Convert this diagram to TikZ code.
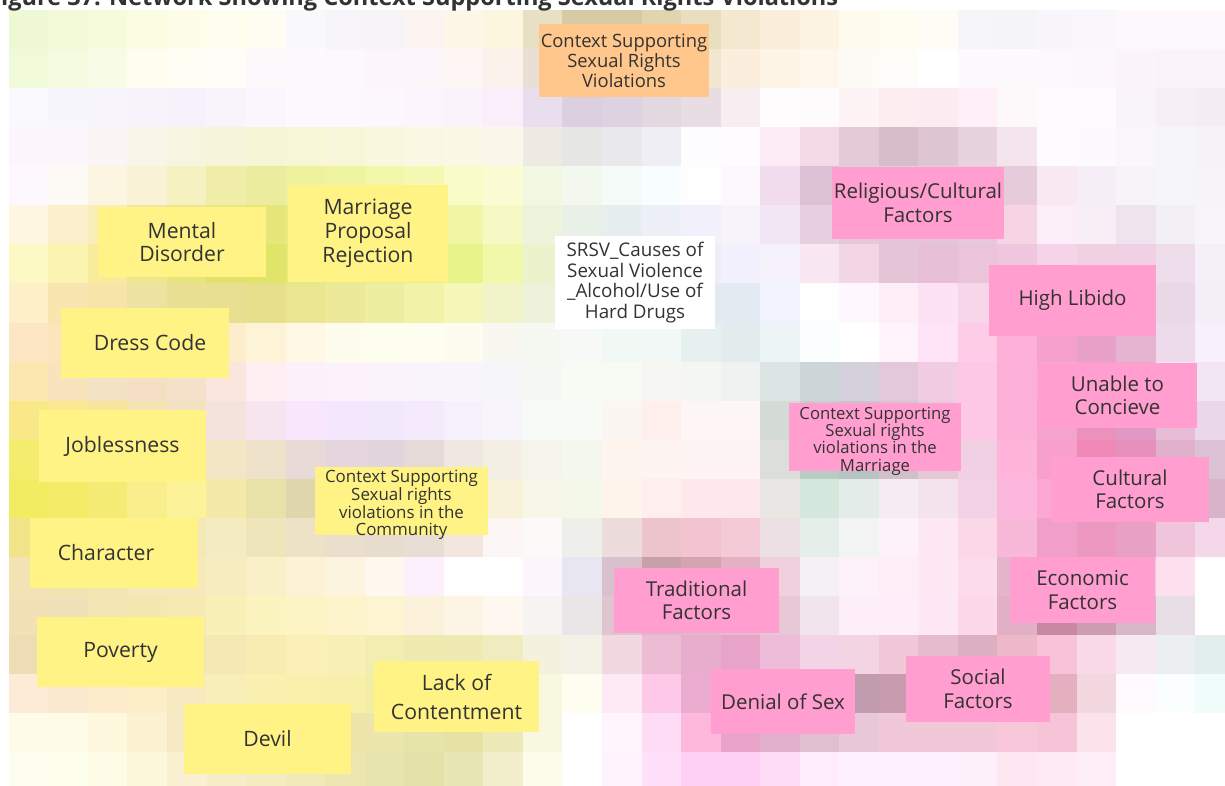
\documentclass[tikz,border=0pt]{standalone}
\usepackage{graphicx}
\usepackage{fontspec}
\setmainfont{Open Sans}

\definecolor{ink}{HTML}{333333}
\definecolor{stickyY}{HTML}{FFF385}
\definecolor{stickyP}{HTML}{FF9ECF}
\definecolor{stickyO}{HTML}{FFC78C}

% one row of the background mosaic: #1 = row index, #2 = list of HTML colours
\newcommand\tilerow[2]{%
  \foreach \c [count=\i from 0] in {#2} {%
    \edef\settile{\noexpand\definecolor{tile}{HTML}{\c}}\settile
    \fill[tile] ({8.7+39.55*\i},{10+39.07*#1}) rectangle ++(39.65,39.17);
  }}

\tikzset{
  card/.style={rectangle, inner sep=2pt, align=center, text=ink},
  ycard/.style={card, fill=stickyY, font=\fontsize{21.2}{23.8}\selectfont},
  pcard/.style={card, fill=stickyP, font=\fontsize{20.5}{23.5}\selectfont},
  ocard/.style={card, fill=stickyO},
  wcard/.style={card, fill=white},
  plain/.style={inner sep=0pt, align=center, text=ink},
  box/.style n args={2}{minimum width=#1pt, minimum height=#2pt},
}

\begin{document}
\begin{tikzpicture}[x=1pt, y=-1pt]
\useasboundingbox (0,0) rectangle (1225,785);
\clip (0,0) rectangle (1225,785);
\fill[white] (0,0) rectangle (1225,785);

% background mosaic
\tilerow{0}{EFF8D4,F1F9D6,F6FBDC,FBFDE2,FEFEE8,FEFEEE,FDFDF2,F9F8FA,F7F5FA,F7F4F7,FBF4F0,FDF7E8,FDF6DE,E8E0C4,D6CBA4,D6CBA4,E0D5AE,E9DFC0,F3E9D0,FBEFDB,FDF3E2,FEFAEC,FEFDF2,FDFDF6,F6F6F8,F5F5F8,F8F6FA,F9F7FB,FDF8FC,FDF8FC,FDF8FC}
\tilerow{1}{F0FAD8,F4FBE0,F8FCE6,FDFEF0,FEFEF4,FEFDF8,FDFAFD,FDF9FD,FDF8FD,FCF6FC,FCF6FA,FDF6F4,FBF2EC,EADFD5,E8DCC8,E8DCC8,ECE0CC,F2E6D0,FBEEDC,FDF4E6,FEF7EC,FEFBF6,FEFDFA,FFFFFF,FDFAFD,FDFAFD,FCF8FC,FCF7FB,FBF5FA,FAF3F8,FAF3F8}
\tilerow{2}{F9F9FE,F8F6FD,F8F5FD,F6F3FB,F6F2FB,F8F4FC,FAF6FD,FDF8FD,FDF8FD,FCF7FD,FCF5FD,FBF3FC,F9EFFB,E8DEEE,DCD0E0,DDD3E0,E2D8E0,E8DDE3,F8EDF0,FEFCFC,FDFBFC,FEF4F6,FCEDF1,FCEBF0,FEF0F6,FDF9FB,FDFBFD,FDFBFD,F8F4F8,F6F0F5,F4EEF4}
\tilerow{3}{FCF6FC,FCF6FC,FBF5F6,F9F6E8,F7F4E0,F6F5DC,F6F5D6,F7F7D6,F7F6D8,F9F7DE,FAF8E2,FBF8E6,FBF7EA,EEEAE2,E6E6E4,E9E9EC,EFEEF4,FDFCFE,FEFCFE,FDEBF6,F4D9E6,E4C9D6,D7BCCA,DEC5D2,E6D3DE,F4E4EC,FDFBFD,FCFAFD,F9F7FB,F6F5F9,F5F3F8}
\tilerow{4}{FDF8FD,FDFAF6,FCF5E2,FAF2D6,F5F1C0,F0EDA8,ECEC9E,EEF29C,EEF4A0,F2F7AA,F5F9B4,FAFCC8,FBFCD4,F2F7E2,F2F8EE,F4FBF8,F8FDFF,FEFEFE,FCF8FC,F2DDEE,DCC0D4,E8C8DA,E8C8DA,E8C8DA,E8C8DA,E6CCDA,F8E8F2,F6EEF6,F6F4F8,F6F6FA,F6F4F8}
\tilerow{5}{FEF6E0,FCF0CC,F8EEB8,F0E8A0,EDE890,E8E880,E6E67A,E8EC86,EAEE8E,ECF090,EEF294,F0F6A4,F6F9C4,EEF3DC,E8F0E8,E6EEF0,EEF0F8,F2F0FA,F8F2FA,F2E6F4,E6D0E0,E6C8DA,E4C4D6,E4C4D6,E8C8DA,F6D4E4,FCEEF8,F8EEF6,EEE4EE,F2F0F4,F7F5FA}
\tilerow{6}{FCF8C4,FAF4B0,F6EC9C,EEE690,E8E47C,E4E070,E0E468,E6E878,E8EC80,EAF084,ECF288,E8F48A,F2F8AA,ECF2CC,E6EEE0,E8EEF0,ECEEF8,EEEEF8,F2F0FC,F6F2FC,F8E6F2,F2D6E6,E6C4D8,E8C0D6,ECC4DA,F0C6DE,F4D4E6,F0D0E2,F0D0E2,EEDDEA,F5F0F7}
\tilerow{7}{FDF0C8,F8E6B0,F6E4A8,EEE2A0,E9E094,E8E090,E6E08C,E9E590,ECEA98,EEEEA0,F2F2A8,F4F7B8,F0F4C8,EEF2DA,E8EEEE,E6ECF0,E4EAF2,E4EAF2,E4EAF2,F0F2FE,FEFEFE,FEF8FE,FDEEF8,FCE2F2,F8D6EA,F6CCE2,F6C0DA,F4B8D6,F0B4D2,EAD8E6,F4EEF6}
\tilerow{8}{FDE6C4,FCE4BC,F8E4B4,F6E2B4,F6E2B8,FCEECC,FDF4D8,FEF8E4,FEFCEC,FEFEEE,FEFEF0,FCFCF0,F8F8F0,F6F8F2,F6F9F5,F2F8F4,F2F8F6,E6F0EE,E2ECEC,ECF4F6,FAFEFE,FFFFFF,FFF4FC,FFE4F8,FFCCE8,FFB0D8,F6A0CC,E8A0C8,E4B4D0,EDDAEA,F8F0FC}
\tilerow{9}{FCE7AE,F8E4BC,F4E2C4,F4DEC4,F6E2CA,FAE6DC,FDEFF2,FCF0FA,FCF2FC,FBF4FC,FAF4FC,F8F6FC,F6F6F8,F6F8F4,F8FAF4,F8FAF4,F6F6F2,F4F6F2,EFF2F0,DCE4E4,CCD6D8,D4D0DC,E2C8D8,F2CCE2,FCC8E6,FCB0D8,F8A8D0,F0A4C8,F0A4C8,F2E6F4,F2E6F4}
\tilerow{10}{F8E888,FBE890,F8E49A,F4E4B2,F2E2C2,F4E2DC,F6E4EE,F8E6FC,F4E6FC,F2E8FC,F4EAFC,F6F0FC,F8F4FC,F8FAF8,F8FAF6,FCF6F2,FEEEEC,FEF6F4,FEF6F4,D4DAD6,C8CCCC,C8C4CC,D8C4D0,E8CCDC,FCC8E6,FCB0D8,F4A4CC,EC90BC,E098C4,E8BCD4,EAD8EA}
\tilerow{11}{F4EC6C,F4EA80,F6E890,F4E4A0,F2E4B4,F2E6C4,EEE2CA,E8DAD6,E4D6DC,E2D6DC,E6DAD8,F0E8E0,F4F0E6,F4F4EA,F4F8EC,FEF6EE,FEF4F2,FEF4F4,FEF4F4,DCDEDA,B8CCC4,B8C4C4,D0C0C8,E4C8D4,F2D0E4,FFB4DA,F8A0CC,F088B8,E890BC,E0B0CC,DCC0D4}
\tilerow{12}{F2EC62,F4EC68,F4EC74,F8EE8C,FCF29A,F2EAA6,E8E2A8,E0D6AC,E4DAB4,E6DCB8,E8DEBC,EEE6C8,F8F2D8,F8F6E6,F4F8E8,FEF4EC,FEEEEE,FEE8EC,FEE8EC,EAE6E4,D4E8DE,E4ECEA,F4ECF2,F4E2EC,F2D2E4,FCB8DC,FCA8D2,F0A8D0,EEA8CE,E8B0CC,D8B4C8}
\tilerow{13}{F0E488,F0E490,F2E6A0,F2E8B0,F2E8B8,F4ECC0,EEE6BA,EEE2C6,EADECC,E8DCCE,E8DED4,F2E6DE,FCF6F4,FCFAF8,EEEEEA,ECDCDC,EEC4CC,F2C4D0,F4CAD6,ECE0E4,E6EEEA,F2F4F4,FEF2FA,FEE8F4,FAD8E8,F8B8D8,F0A0C8,EC98C0,E8A0C4,F0C4DA,F4D8EA}
\tilerow{14}{F2E2B4,F2E4B0,F4E6B4,F6E8B8,F6EABC,F6ECC0,FAF0C8,FDF2D4,FDF4E0,FEF8EE,FCF0FC,FEFEFE,FEFEFE,FCF6FC,E8E6F0,D8C0CC,C8A0AC,D4A4B0,E4B0C4,F0D0DC,F4F0F4,FCF2F8,FEECF6,FEE8F4,FCDCEC,E4B4CC,E8C0D0,E4C0D0,E8CCDA,FCE0EE,FFFFFF}
\tilerow{15}{F2E0B6,F0E2B8,F2E6B4,F2E8B0,F4EAB2,F8F0B6,FCF4BE,FDF4C6,FDF4CC,FDF4D2,FCF2DC,FCF4E4,FEF8F0,F6F4F2,EAE6E8,E0C4D0,DCB8C8,E0B8C8,E4BCCC,E8C8D4,F2E4EC,FEEEFA,FEEEFA,FEE8F6,FDD8EA,E2B0C6,C888A2,CC9CB0,D8B8C8,E8DEE6,FFFFFF}
\tilerow{16}{EEDCB4,F0E0B4,F2E2B4,F4E4B8,F4E4B8,F4E8B4,F8ECB2,FAF0B8,F8F0B6,F2EEB0,EEEAB0,EEEAB2,F0ECC0,F4F2DC,F4F2E6,F2D8E0,ECBCD4,E8ACCC,E8A4C8,ECBCD8,F2D4E6,F2D4E2,F0C8D8,E4BCCC,DCB0C0,ECB8CA,F8C2D8,FADAE8,F6EAF0,ECEFF2,E2EEEC}
\tilerow{17}{FDEBD8,FCEAD0,FCECCC,FCEEC6,F8EAC0,F8EEB8,FAF0B0,FAF0AC,F8F0AA,F4EEA4,F0ECA4,EEEAA8,F0EEB8,F8F8E0,FEFEF0,FEEAF4,FEC8E8,ECACD0,E8A4CC,E4A8C8,E0A8C4,C09CAE,C89CAE,D8A8BC,E0B0C0,E4B0C0,E4B0C0,F4D8E0,FEFAFE,FAFEFE,F0FCFA}
\tilerow{18}{FEFCE8,FEFCE6,FDF8DE,FBF2D2,F6E8C2,F2E6B8,F0E6B0,EEE4AC,ECE4A8,ECE6AC,E6E4A8,E6E2A4,EEEAB8,F8F8E0,FFFFFF,FEF6FC,FEDCF6,FEB8DC,E8A4C8,E0B0CC,E0C0D0,E8C8D8,F0C8D8,F2C8D8,F2C8D8,F8C8DA,F6C4D6,FCE2EA,FFFFFF,FFFFFF,FFFFFF}
\tilerow{19}{FEFEEE,FEFEEC,FEFCE6,FCF6DA,FAF0D2,F6EEC8,F4ECC0,F0EAB8,ECE6B0,E8E4B0,E4E2A8,E8E6B4,F2EECC,FCFCEA,FFFFFF,FEF4FE,FEE0FA,FED0F4,FED0F4,FEDCF6,FEECFA,FEF0FC,FEF0FC,FEF0FC,FEF0FA,FDE8F2,FDEAF4,FDEEF6,FFFFFF,FFFFFF,FFFFFF}

% heading, cut by the top edge
\node[anchor=base west, inner sep=0pt, text=ink] (heading) at (-12,5)
  {\resizebox{850pt}{!}{\bfseries Figure 37: Network Showing Context Supporting Sexual Rights Violations}};

% central code
\node[ocard, box={170}{73}, font=\fontsize{18.4}{20}\selectfont] (ctx) at (624,60.5)
  {Context Supporting\\Sexual Rights\\Violations};

% community context (yellow)
\node[ycard, box={168}{70}] (mental) at (182,242) {Mental\\Disorder};
\node[ycard, box={160}{97}] (proposal) at (368,233.5) {Marriage\\Proposal\\Rejection};
\node[wcard, box={160}{93}, font=\fontsize{18.8}{20.7}\selectfont] (srsv) at (635,282.5)
  {SRSV\_Causes of\\Sexual Violence\\\_Alcohol/Use of\\Hard Drugs};
\node[ycard, box={168}{70}] (dress) at (145,343) {\hspace{10pt}Dress Code};
\node[ycard, box={167}{72}] (jobless) at (122.5,446) {Joblessness};
\node[ycard, box={173}{68}] (community) at (401.5,501) {};
\node[plain, font=\fontsize{16.9}{16.7}\selectfont] (communitytext) at (401.5,505)
  {Context Supporting\\Sexual rights\\violations in the\\Community};
\node[ycard, box={168}{70}] (character) at (114,553) {\hspace{-16pt}Character};
\node[ycard, box={167}{70}] (poverty) at (120.5,652) {Poverty};
\node[ycard, box={167}{70}] (devil) at (267.5,739) {Devil};
\node[ycard, box={165}{71}, font=\fontsize{21.2}{29}\selectfont] (lack) at (456.5,696.5) {Lack of\\Contentment};

% marriage context (pink)
\node[pcard, box={166}{72}] (religious) at (918,203) {Religious/Cultural\\Factors};
\node[pcard, box={167}{71}] (libido) at (1072.5,300.5) {High Libido};
\node[pcard, box={159}{65}] (unable) at (1117.5,395.5) {Unable to\\Concieve};
\node[pcard, box={172}{68}] (marriage) at (875,437) {};
\node[plain, font=\fontsize{16.7}{17.3}\selectfont] (marriagetext) at (875,441)
  {Context Supporting\\Sexual rights\\violations in the\\Marriage};
\node[pcard, box={158}{65}] (cultural) at (1130,489.5) {Cultural\\Factors};
\node[pcard, box={165}{65}] (traditional) at (696.5,600.5) {Traditional\\Factors};
\node[pcard, box={145}{66}] (economic) at (1082.5,590) {Economic\\Factors};
\node[pcard, box={144}{65}] (denial) at (783,701.5) {Denial of Sex};
\node[pcard, box={144}{66}] (social) at (978,689) {Social\\Factors};
\end{tikzpicture}
\end{document}
